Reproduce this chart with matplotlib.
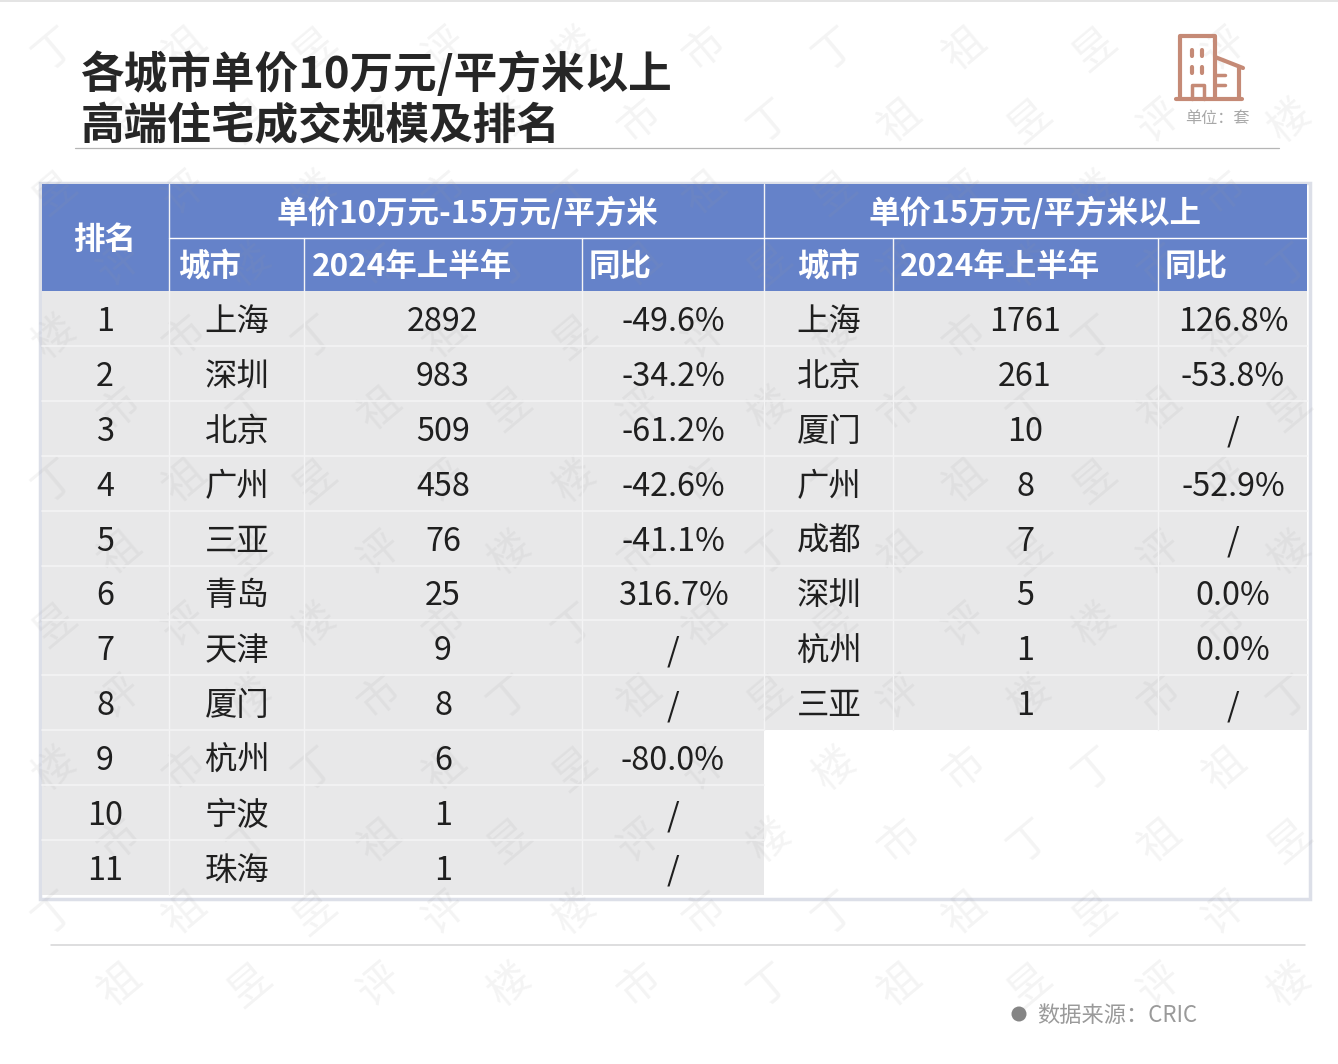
import matplotlib
matplotlib.use('Agg')
import matplotlib.pyplot as plt
from matplotlib.patches import Rectangle, Circle

plt.rcParams['font.family'] = ['Noto Sans CJK SC', 'DejaVu Sans']

# Table data
ranks = ['1', '2', '3', '4', '5', '6', '7', '8', '9', '10', '11']
cities_a = ['上海', '深圳', '北京', '广州', '三亚', '青岛', '天津', '厦门', '杭州', '宁波', '珠海']
sales_a = ['2892', '983', '509', '458', '76', '25', '9', '8', '6', '1', '1']
yoy_a = ['-49.6%', '-34.2%', '-61.2%', '-42.6%', '-41.1%', '316.7%', '/', '/', '-80.0%', '/', '/']
cities_b = ['上海', '北京', '厦门', '广州', '成都', '深圳', '杭州', '三亚']
sales_b = ['1761', '261', '10', '8', '7', '5', '1', '1']
yoy_b = ['126.8%', '-53.8%', '/', '-52.9%', '/', '0.0%', '0.0%', '/']

title_lines = ['各城市单价10万元/平方米以上', '高端住宅成交规模及排名']
group_a = '单价10万元-15万元/平方米'
group_b = '单价15万元/平方米以上'
col_heads = ['城市', '2024年上半年', '同比']

# Layout, in pixels of the 1338x1064 picture
col_x = [42, 169, 304, 582, 764, 893, 1158, 1307]
head_y = [184, 238, 291]
row_h = 54.9
blue = '#6582c9'
grey = '#e8e8e9'
ink = '#1f1f1f'

fig = plt.figure(figsize=(13.38, 10.64), dpi=100)
ax = fig.add_axes([0, 0, 1, 1])
ax.set_xlim(0, 1338)
ax.set_ylim(1064, 0)
ax.axis('off')


def cell(x0, x1, y0, y1, color):
    ax.add_patch(Rectangle((x0, y0), x1 - x0, y1 - y0, fc=color, ec='none', zorder=2))


def line(xs, ys, color='white', lw=1.2, z=3):
    ax.plot(xs, ys, color=color, lw=lw, zorder=z, solid_capstyle='round')


# Faint watermark, kept inside the picture
for j in range(14):
    for i in range(10):
        wx = 55 + i * 130 + (j % 2) * 65
        wy = 50 + j * 72
        if wx > 1290:
            continue
        ax.text(wx, wy, '丁祖昱评楼市'[(i + j) % 6], fontsize=30, color='#9a9a9a', alpha=0.11,
                rotation=40, ha='center', va='center', zorder=3)

# Top band and rules
ax.add_patch(Rectangle((0, 0), 1338, 2, fc='#e4e4e4', ec='none', zorder=1))
line([75, 1279], [147.5, 147.5], '#b5b5b5', 0.9)
line([51, 1305], [944.5, 944.5], '#d4d4d6', 1.1)

# Title
for k, t in enumerate(title_lines):
    ax.text(81, 74 + k * 52, t, fontsize=31.4, fontweight='bold', color='#262626',
            ha='left', va='center', zorder=4)

# Table border and headers
ax.add_patch(Rectangle((39.5, 182.5), 1270.5, 716, fc='none', ec='#dcdfe8', lw=2.5, zorder=2))
cell(col_x[0], col_x[-1], head_y[0], head_y[2], blue)

n_rows = len(ranks)
row_top = [head_y[2] + i * row_h for i in range(n_rows + 1)]
for i in range(n_rows):
    cell(col_x[0], col_x[4], row_top[i], row_top[i + 1], grey)
for i in range(len(cities_b)):
    cell(col_x[4], col_x[7], row_top[i], row_top[i + 1], grey)

# White grid lines
for x in col_x[1:4]:
    line([x, x], [head_y[1] if x != col_x[1] else head_y[0], row_top[n_rows]], '#f4f4f5', 1.0)
line([col_x[4], col_x[4]], [head_y[0], row_top[len(cities_b)]], '#f4f4f5', 1.0)
for x in col_x[5:7]:
    line([x, x], [head_y[1], row_top[len(cities_b)]], '#f4f4f5', 1.0)
line([col_x[1], col_x[7]], [head_y[1], head_y[1]], 'white', 1.0)
for i in range(1, n_rows):
    x_end = col_x[7] if i <= len(cities_b) - 1 else col_x[4]
    line([col_x[0], x_end], [row_top[i], row_top[i]], '#f3f3f4', 1.2)

# Header text
hs = dict(color='white', fontweight='bold', va='center', zorder=4, fontsize=22.7)
ax.text(105, 240, '排名', ha='center', **hs)
ax.text(467, 213, group_a, ha='center', **hs)
ax.text(1035, 213, group_b, ha='center', **hs)
for x, t in zip([178, 312, 589], col_heads):
    ax.text(x, 267, t, ha='left', **hs)
for x, t in zip([797, 900, 1165], col_heads):
    ax.text(x, 267, t, ha='left', **hs)

# Body text
bs = dict(color=ink, va='center', ha='center', zorder=4, fontsize=23.3, fontweight='medium')
for i in range(n_rows):
    y = row_top[i] + row_h / 2 + 3.5
    ax.text(105, y, ranks[i], **bs)
    ax.text(237, y, cities_a[i], **bs)
    ax.text(443, y, sales_a[i], **bs)
    ax.text(673, y, yoy_a[i], **bs)
for i in range(len(cities_b)):
    y = row_top[i] + row_h / 2 + 3.5
    ax.text(829, y, cities_b[i], **bs)
    ax.text(1025, y, sales_b[i], **bs)
    ax.text(1233, y, yoy_b[i], **bs)

# Building icon
c = '#c58a76'
line([1176, 1242], [99, 99], c, 3)
line([1180, 1180, 1215, 1215], [99, 36, 36, 99], c, 3)
line([1215, 1243], [57, 68], c, 3)
line([1239, 1239], [68, 99], c, 3)
line([1215, 1225], [75, 75], c, 2.5)
line([1215, 1225], [85, 85], c, 2.5)
line([1192, 1192, 1204, 1204], [99, 85, 85, 99], c, 2.5)
for wx in (1192, 1202):
    for wy in (53, 70):
        line([wx, wx], [wy - 3, wy + 3], c, 3)
ax.text(1217, 119, '单位：套', fontsize=11.6, color='#a8a8a8', ha='center', va='center', zorder=4)

# Source note
ax.add_patch(Circle((1019, 1014), 7.5, fc='#858585', ec='none', zorder=4))
ax.text(1037, 1015, '数据来源：CRIC', fontsize=16, color='#9a9a9a', ha='left', va='center', zorder=4)

fig.savefig('out.png', dpi=100)
